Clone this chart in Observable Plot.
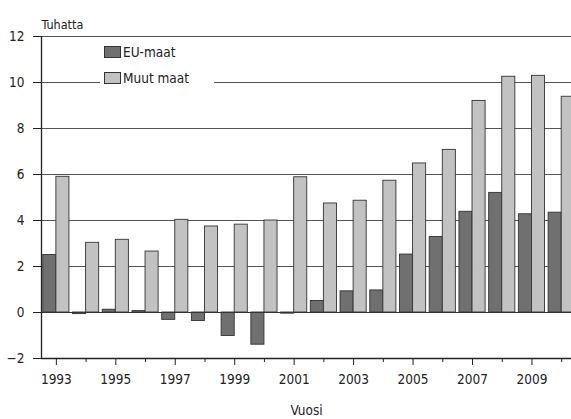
<!DOCTYPE html>
<html>
<head>
<meta charset="utf-8">
<script src="https://cdn.jsdelivr.net/npm/d3@7"></script>
<script src="https://cdn.jsdelivr.net/npm/@observablehq/plot@0.6"></script>
<style>
  html, body { margin: 0; padding: 0; background: #fff; overflow: hidden; }
  #wrap { position: relative; width: 571px; height: 419px; overflow: hidden; font-family: "DejaVu Sans Condensed", "DejaVu Sans", sans-serif; color: #222; }
  #legend { position: absolute; left: 100px; top: 42px; width: 114px; height: 46px; background: #fff; font-size: 13.5px; }
  .item { position: absolute; left: 4px; display: flex; align-items: center; white-space: nowrap; }
  .sw { width: 15px; height: 10px; border: 1px solid #333; margin-right: 2px; }
</style>
</head>
<body>
<div id="wrap"></div>
<script>
const years = [1993,1994,1995,1996,1997,1998,1999,2000,2001,2002,2003,2004,2005,2006,2007,2008,2009,2010];
const euMaat = [2.5,-0.07,0.12,0.06,-0.32,-0.37,-1.02,-1.4,-0.05,0.5,0.92,0.96,2.52,3.28,4.38,5.2,4.27,4.34];
const muutMaat = [5.9,3.03,3.16,2.65,4.03,3.74,3.82,4.0,5.88,4.74,4.86,5.73,6.48,7.07,9.2,10.25,10.29,9.38];
const seriesNames = ["EU-maat", "Muut maat"];
const seriesColors = ["#707070", "#c2c2c2"];
const yTicks = [-2,0,2,4,6,8,10,12];
const majorYears = [1993,1995,1997,1999,2001,2003,2005,2007,2009];
const minorYears = [1994,1996,1998,2000,2002,2004,2006,2008,2010];

const half = 0.44;
const data = [];
years.forEach((y, i) => {
  data.push({year: y, series: seriesNames[0], value: euMaat[i], x1: y - half, x2: y});
  data.push({year: y, series: seriesNames[1], value: muutMaat[i], x1: y, x2: y + half});
});

const chart = Plot.plot({
  width: 571,
  height: 419,
  marginLeft: 41,
  marginRight: 0,
  marginTop: 36,
  marginBottom: 61,
  style: {fontFamily: "DejaVu Sans Condensed, DejaVu Sans, sans-serif", fontSize: "13px", color: "#222", background: "#fff", overflow: "hidden"},
  x: {type: "linear", domain: [1992.5, 2010.33]},
  y: {domain: [-2, 12]},
  color: {domain: seriesNames, range: seriesColors},
  marks: [
    Plot.ruleY(yTicks.filter(d => d > -2), {stroke: "#555", strokeWidth: 1}),
    Plot.rect(data, {x1: "x1", x2: "x2", y1: 0, y2: "value", fill: "series", stroke: "#333", strokeWidth: 0.9}),
    Plot.ruleY([0], {stroke: "#333", strokeWidth: 1}),
    Plot.ruleX([1992.5], {stroke: "#222", strokeWidth: 1.3}),
    Plot.ruleY([-2], {stroke: "#222", strokeWidth: 1.3}),
    Plot.axisY({ticks: yTicks, tickSize: 8, tickPadding: 9, label: null, tickFormat: d => d < 0 ? "\u2212" + Math.abs(d) : String(d), fontSize: 13.5, stroke: "#222"}),
    Plot.axisX({ticks: majorYears, tickSize: 7, tickPadding: 9, label: null, tickFormat: d => String(d), fontSize: 13.5, stroke: "#222"}),
    Plot.axisX({ticks: minorYears, tickSize: 4, text: null, label: null, stroke: "#222"}),
    Plot.text(["Tuhatta"], {frameAnchor: "top-left", dy: -16, dx: 0, textAnchor: "start", fontSize: 12.5, fill: "#222"}),
    Plot.text(["Vuosi"], {frameAnchor: "bottom", dy: 56, fontSize: 13.5, fill: "#222"})
  ]
});

const wrap = document.getElementById("wrap");
wrap.appendChild(chart);
const legend = document.createElement("div");
legend.id = "legend";
seriesNames.forEach((name, i) => {
  const item = document.createElement("div");
  item.className = "item";
  item.style.top = (i === 0 ? 2 : 28) + "px";
  const sw = document.createElement("span");
  sw.className = "sw";
  sw.style.background = seriesColors[i];
  const label = document.createElement("span");
  label.textContent = name;
  item.appendChild(sw);
  item.appendChild(label);
  legend.appendChild(item);
});
wrap.appendChild(legend);
</script>
</body>
</html>
